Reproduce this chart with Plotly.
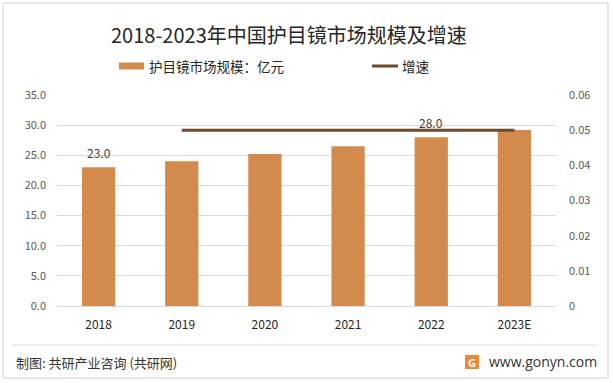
import plotly.graph_objects as go

# ---- data ----
years = ["2018", "2019", "2020", "2021", "2022", "2023E"]
market_size = [23.0, 24.0, 25.2, 26.5, 28.0, 29.2]      # 亿元
growth = [None, 0.05, 0.05, 0.05, 0.05, 0.05]
bar_labels = ["23.0", "", "", "", "28.0", ""]
left_ticks = [0, 5, 10, 15, 20, 25, 30, 35]
right_tickvals = [0, 0.01, 0.02, 0.03, 0.04, 0.05, 0.06]
right_ticktext = ["0", "0.01", "0.02", "0.03", "0.04", "0.05", "0.06"]

title_text = "2018-2023年中国护目镜市场规模及增速"
bar_name = "护目镜市场规模：亿元"
line_name = "增速"
source_text = "制图: 共研产业咨询 (共研网)"
site_text = "www.gonyn.com"

# ---- style ----
W, H = 613, 383
L, R, T, B = 57, 57, 95, 77
PW, PH = W - L - R, H - T - B
BAR_C = "#D38B4D"
LINE_C = "#6B4A2E"
GRID_C = "#D9D9D9"
FONT = "Noto Sans CJK SC"


def xp(px):
    return (px - L) / PW


def yp(py):
    return (H - B - py) / PH


fig = go.Figure()
fig.add_trace(go.Bar(x=years, y=market_size, name=bar_name, marker_color=BAR_C,
                     marker_line_width=0, yaxis="y", xaxis="x", showlegend=False))
fig.add_trace(go.Scatter(x=years, y=growth, name=line_name, mode="lines",
                         line=dict(color=LINE_C, width=3), yaxis="y2", xaxis="x",
                         showlegend=False))

annotations = []
for i, (v, lab) in enumerate(zip(market_size, bar_labels)):
    if lab:
        annotations.append(dict(x=i, y=v, xref="x", yref="y", text=lab,
                                showarrow=False, yanchor="middle", yshift=15,
                                font=dict(size=12, color="#404040", family=FONT)))
# title
annotations.append(dict(x=xp(289), y=yp(34), xref="paper", yref="paper",
                        text=title_text, showarrow=False, xanchor="center", yanchor="middle",
                        font=dict(size=20, color="#262626", family=FONT)))
# legend texts
annotations.append(dict(x=xp(147), y=yp(66), xref="paper", yref="paper",
                        text=bar_name, showarrow=False, xanchor="left", yanchor="middle",
                        font=dict(size=13.5, color="#262626", family=FONT)))
annotations.append(dict(x=xp(400), y=yp(66), xref="paper", yref="paper",
                        text=line_name, showarrow=False, xanchor="left", yanchor="middle",
                        font=dict(size=13.5, color="#262626", family=FONT)))
# footer
annotations.append(dict(x=xp(14), y=yp(362), xref="paper", yref="paper",
                        text=source_text, showarrow=False, xanchor="left", yanchor="middle",
                        font=dict(size=13, color="#333333", family=FONT)))
annotations.append(dict(x=xp(599), y=yp(361), xref="paper", yref="paper",
                        text=site_text, showarrow=False, xanchor="right", yanchor="middle",
                        font=dict(size=14, color="#333333", family="Open Sans")))
annotations.append(dict(x=xp(472), y=yp(362), xref="paper", yref="paper",
                        text="<b>G</b>", showarrow=False, xanchor="center", yanchor="middle",
                        font=dict(size=11, color="white", family="Open Sans")))

shapes = [
    # outer border
    dict(type="rect", xref="paper", yref="paper", x0=xp(3), x1=xp(608), y0=yp(3), y1=yp(378),
         line=dict(color="#D0D0D0", width=1), fillcolor="rgba(0,0,0,0)", layer="below"),
    # legend symbols
    dict(type="rect", xref="paper", yref="paper", x0=xp(119), x1=xp(144), y0=yp(69.5), y1=yp(62.5),
         line=dict(width=0), fillcolor=BAR_C),
    dict(type="line", xref="paper", yref="paper", x0=xp(372), x1=xp(398), y0=yp(66), y1=yp(66),
         line=dict(color=LINE_C, width=3)),
    # footer separator
    dict(type="line", xref="paper", yref="paper", x0=xp(12), x1=xp(598), y0=yp(345), y1=yp(345),
         line=dict(color=GRID_C, width=1)),
    # logo
    dict(type="rect", xref="paper", yref="paper", x0=xp(465), x1=xp(479), y0=yp(369), y1=yp(355),
         line=dict(width=0), fillcolor="#F0883A"),
]

fig.update_layout(
    width=W, height=H,
    margin=dict(l=L, r=R, t=T, b=B),
    paper_bgcolor="white", plot_bgcolor="white",
    bargap=0.6,
    font=dict(family=FONT),
    xaxis=dict(type="category", categoryorder="array", categoryarray=years,
               range=[-0.5, len(years) - 0.5],
               showgrid=False, showline=False, ticks="",
               tickfont=dict(size=12, color="#262626", family=FONT),
               ticklabelstandoff=10),
    yaxis=dict(range=[0, 35], tickvals=left_ticks, tickformat=".1f",
               showgrid=True, gridcolor=GRID_C, gridwidth=1,
               zeroline=True, zerolinecolor=GRID_C, zerolinewidth=1,
               showline=False, ticks="",
               tickfont=dict(size=11, color="#595959", family=FONT),
               ticklabelstandoff=10),
    yaxis2=dict(range=[0, 0.06], overlaying="y", side="right",
                tickvals=right_tickvals, ticktext=right_ticktext,
                showgrid=False, zeroline=False, showline=False, ticks="",
                tickfont=dict(size=11, color="#595959", family=FONT),
                ticklabelstandoff=12),
    annotations=annotations,
    shapes=shapes,
    showlegend=False,
)

fig.write_html("out.html", config={"displayModeBar": False},
               post_script="document.body.style.margin='0';document.body.style.padding='0';")
